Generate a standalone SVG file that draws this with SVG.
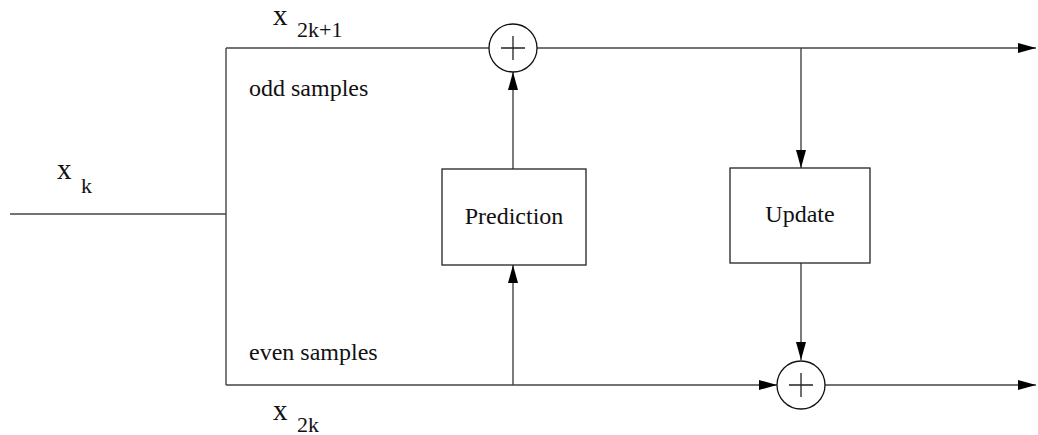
<svg xmlns="http://www.w3.org/2000/svg" width="1038" height="435" viewBox="0 0 1038 435">
<style>
.ln{fill:none;stroke:#444;stroke-width:1.4}
.bx{fill:#fff;stroke:#222;stroke-width:1.3}
.ci{fill:#fff;stroke:#111;stroke-width:1.3}
.pl{stroke:#222;stroke-width:1.3}
text{fill:#111}
.t{font-size:24px}
.big{font-size:29px}
.sub{font-size:22px}
</style>
<defs>
<marker id="ah" markerWidth="18" markerHeight="10" refX="18" refY="5" orient="auto" markerUnits="userSpaceOnUse">
<path d="M0,0 L18,5 L0,10 z" fill="#000"/>
</marker>
</defs>
<rect width="1038" height="435" fill="#fff"/>
<g id="connectors">
<path class="ln" d="M10 214 H226"/>
<path class="ln" d="M226 48 V385"/>
<path class="ln" d="M226 48 H489"/>
<path class="ln" d="M537 48 H1036" marker-end="url(#ah)"/>
<path class="ln" d="M801 48 V168" marker-end="url(#ah)"/>
<path class="ln" d="M513 385 V265" marker-end="url(#ah)"/>
<path class="ln" d="M513 169 V72" marker-end="url(#ah)"/>
<path class="ln" d="M226 385 H777" marker-end="url(#ah)"/>
<path class="ln" d="M801 263 V360" marker-end="url(#ah)"/>
<path class="ln" d="M825 385 H1036" marker-end="url(#ah)"/>
</g>
<g id="adder-top">
<circle class="ci" cx="513" cy="48" r="24"/>
<path class="pl" d="M501 48 H525 M513 36 V60"/>
</g>
<g id="adder-bottom">
<circle class="ci" cx="801" cy="385" r="24"/>
<path class="pl" d="M789 385 H813 M801 373 V397"/>
</g>
<g font-family="Liberation Serif, Times New Roman, Times, DejaVu Serif, serif">
<g id="prediction">
<rect class="bx" x="442" y="169" width="144" height="96"/>
<text class="t" x="514" y="224" text-anchor="middle">Prediction</text>
</g>
<g id="update">
<rect class="bx" x="730" y="168" width="140" height="95"/>
<text class="t" x="800" y="222" text-anchor="middle">Update</text>
</g>
<g id="labels">
<text class="big" x="57" y="179">x</text>
<text class="sub" x="81" y="193">k</text>
<text class="big" x="273" y="25">x</text>
<text class="sub" x="297" y="37">2k+1</text>
<text class="t" x="249" y="96">odd samples</text>
<text class="t" x="249" y="360">even samples</text>
<text class="big" x="273" y="420">x</text>
<text class="sub" x="297" y="432">2k</text>
</g>
</g>
</svg>
